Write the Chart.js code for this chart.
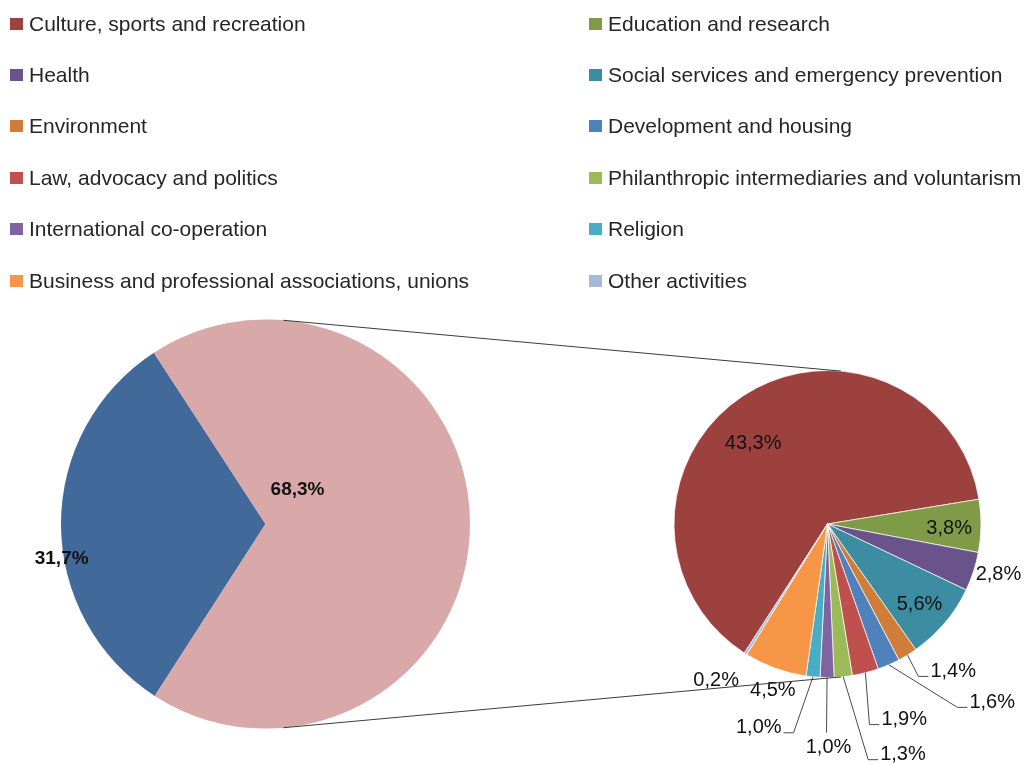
<!DOCTYPE html>
<html>
<head>
<meta charset="utf-8">
<script src="https://cdn.jsdelivr.net/npm/chart.js@4.4.0/dist/chart.umd.min.js"></script>
<style>
  body { margin: 0; background: #fff; font-family: "Liberation Sans", Arial, sans-serif; }
  #wrap { position: relative; width: 1028px; height: 765px; overflow: hidden; }
  #wrap canvas { position: absolute; left: 0; top: 0; }
  #legend { position: absolute; left: 10px; top: -2px; display: grid; grid-template-columns: 579px auto; grid-auto-rows: 51.4px; }
  .item { display: flex; align-items: center; font-size: 21px; color: #262626; white-space: nowrap; }
  .box { width: 13px; height: 12px; margin-right: 6px; flex: none; }
</style>
</head>
<body>
<div id="wrap">
  <canvas id="mainPie" width="1028" height="765"></canvas>
  <canvas id="detailPie" width="1028" height="765"></canvas>
  <div id="legend"></div>
</div>
<script>
// detail pie (share of total, %)
const categories = [
  "Culture, sports and recreation",
  "Education and research",
  "Health",
  "Social services and emergency prevention",
  "Environment",
  "Development and housing",
  "Law, advocacy and politics",
  "Philanthropic intermediaries and voluntarism",
  "International co-operation",
  "Religion",
  "Business and professional associations, unions",
  "Other activities"
];
const shares = [43.3, 3.8, 2.8, 5.6, 1.4, 1.6, 1.9, 1.3, 1.0, 1.0, 4.5, 0.2];
const colors = ["#9d413e", "#7f9b47", "#6a528a", "#3c8ca2", "#d07d3a", "#4f81bd",
                "#c0504d", "#9bbb59", "#8064a2", "#4bacc6", "#f79646", "#a6b8db"];

// main pie
const mainShares = [31.7, 68.3];
const mainColors = ["#416a9b", "#d9a9a9"];

const firstSliceAngle = 212.8;
const connectorAngle = 85;

// label placement: r = factor of radius, turn = degrees off the slice middle
const mainPlacement = [
  { r: 1.011, turn: -9.5 },
  { r: 0.228, turn: -46.5 }
];
const detailPlacement = [
  { r: 0.716, turn: -9.3 },
  { r: 0.793, turn: 1.3 },
  { r: 1.162, turn: -1.5 },
  { r: 0.795, turn: 0.9 },
  { r: 1.156, turn: 0.6, leader: "left" },
  { r: 1.464, turn: -11.8, leader: "left" },
  { r: 1.335, turn: 2.5, leader: "left" },
  { r: 1.558, turn: -3.9, leader: "left" },
  { r: 1.36, turn: 0.1, leader: "below" },
  { r: 1.378, turn: 3.8, leader: "right" },
  { r: 1.14, turn: -1.7 },
  { r: 1.253, turn: 3.1 }
];

const fmt = v => v.toFixed(1).replace(".", ",") + "%";
const rad = d => d * Math.PI / 180;

const labelPlugin = (placement, font) => ({
  id: "sliceLabels",
  afterDatasetsDraw(chart) {
    const ctx = chart.ctx;
    const values = chart.data.datasets[0].data;
    ctx.save();
    ctx.font = font;
    ctx.fillStyle = "#111";
    ctx.strokeStyle = "#4a4a4a";
    ctx.lineWidth = 1;
    chart.getDatasetMeta(0).data.forEach((arc, i) => {
      const p = placement[i];
      const mid = (arc.startAngle + arc.endAngle) / 2;
      const a = mid + rad(p.turn);
      const R = arc.outerRadius;
      const px = arc.x + Math.cos(a) * R * p.r;
      const py = arc.y + Math.sin(a) * R * p.r;
      const text = fmt(values[i]);
      if (!p.leader) {
        ctx.textAlign = "center";
        ctx.textBaseline = "middle";
        ctx.fillText(text, px, py);
        return;
      }
      const sx = arc.x + Math.cos(mid) * R;
      const sy = arc.y + Math.sin(mid) * R;
      ctx.beginPath();
      ctx.moveTo(sx, sy);
      ctx.lineTo(px, py);
      if (p.leader === "left") ctx.lineTo(px + 10, py);
      if (p.leader === "right") ctx.lineTo(px - 10, py);
      ctx.stroke();
      ctx.textBaseline = "middle";
      if (p.leader === "left") {
        ctx.textAlign = "left";
        ctx.fillText(text, px + 12, py - 5);
      } else if (p.leader === "right") {
        ctx.textAlign = "right";
        ctx.fillText(text, px - 12, py - 5);
      } else {
        ctx.textAlign = "center";
        ctx.fillText(text, px + 2, py + 15);
      }
    });
    ctx.restore();
  }
});

const baseOptions = (radius, padding) => ({
  responsive: false,
  animation: false,
  events: [],
  rotation: firstSliceAngle,
  radius: radius,
  layout: { padding: padding },
  plugins: { legend: { display: false }, tooltip: { enabled: false } }
});

const mainChart = new Chart(document.getElementById("mainPie"), {
  type: "pie",
  data: {
    labels: ["Other", "Non-profit"],
    datasets: [{ data: mainShares, backgroundColor: mainColors, borderWidth: 0 }]
  },
  options: baseOptions(204.5, { left: 0, right: 497, top: 300, bottom: 17 }),
  plugins: [labelPlugin(mainPlacement, "bold 19px 'Liberation Sans', Arial, sans-serif")]
});

const connectorPlugin = {
  id: "connectors",
  afterDraw(chart) {
    const big = mainChart.getDatasetMeta(0).data[0];
    const small = chart.getDatasetMeta(0).data[0];
    const ctx = chart.ctx;
    ctx.save();
    ctx.strokeStyle = "#3a3a3a";
    ctx.lineWidth = 1;
    [-1, 1].forEach(s => {
      const a = rad(s * connectorAngle);
      ctx.beginPath();
      ctx.moveTo(big.x + Math.cos(a) * big.outerRadius, big.y + Math.sin(a) * big.outerRadius);
      ctx.lineTo(small.x + Math.cos(a) * small.outerRadius, small.y + Math.sin(a) * small.outerRadius);
      ctx.stroke();
    });
    ctx.restore();
  }
};

const detailChart = new Chart(document.getElementById("detailPie"), {
  type: "pie",
  data: {
    labels: categories,
    datasets: [{ data: shares, backgroundColor: colors, borderWidth: 1, borderColor: "rgba(255,255,255,0.7)" }]
  },
  options: baseOptions(153.5, { left: 627, right: 0, top: 300, bottom: 17 }),
  plugins: [labelPlugin(detailPlacement, "20px 'Liberation Sans', Arial, sans-serif"), connectorPlugin]
});

// legend, two columns
const legend = document.getElementById("legend");
categories.forEach((name, i) => {
  const item = document.createElement("div");
  item.className = "item";
  item.innerHTML = '<span class="box" style="background:' + colors[i] + '"></span>' + name;
  legend.appendChild(item);
});
</script>
</body>
</html>
